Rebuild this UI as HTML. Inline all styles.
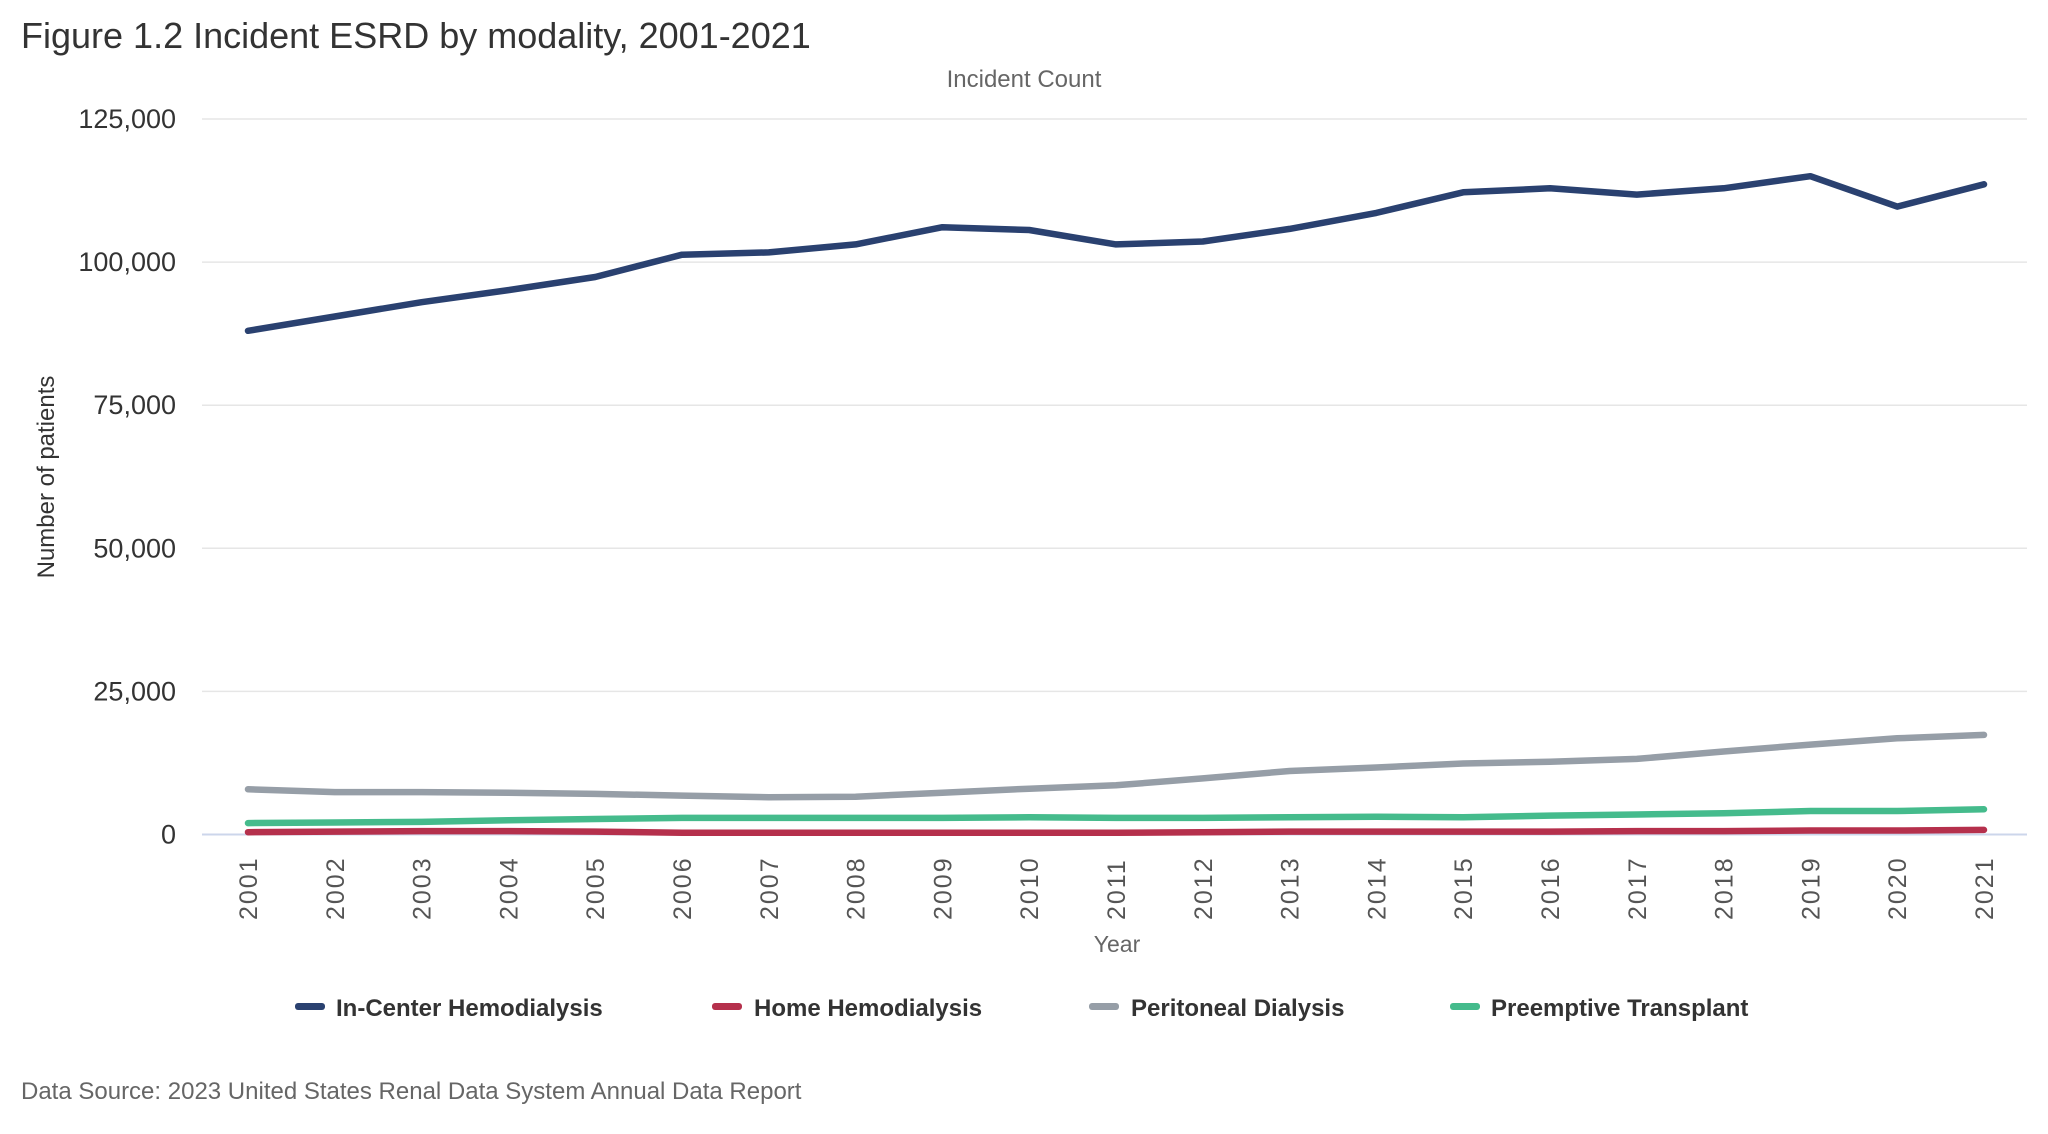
<!DOCTYPE html>
<html><head><meta charset="utf-8"><style>
html,body{margin:0;padding:0;background:#fff;width:2048px;height:1134px;overflow:hidden;font-family:"Liberation Sans",sans-serif}
</style></head><body>
<svg width="2048" height="1134" xmlns="http://www.w3.org/2000/svg">
<text x="21" y="48" font-size="36" fill="#333">Figure 1.2 Incident ESRD by modality, 2001-2021</text>
<text x="1024" y="87" font-size="24" fill="#666" text-anchor="middle">Incident Count</text>
<text transform="translate(54,477) rotate(-90)" font-size="24" fill="#333" text-anchor="middle">Number of patients</text>
<text x="1117" y="952" font-size="23" fill="#666" text-anchor="middle">Year</text>
<g id="grid"></g><g id="xlabels"></g><g id="lines"></g>
<g font-size="24" font-weight="bold" fill="#333">
<g><rect x="295" y="1003" width="30" height="7" rx="3" fill="#2a4170"/><text x="336" y="1016">In-Center Hemodialysis</text></g>
<g><rect x="712" y="1003" width="30" height="7" rx="3" fill="#b5304c"/><text x="754" y="1016">Home Hemodialysis</text></g>
<g><rect x="1089" y="1003" width="30" height="7" rx="3" fill="#969ea7"/><text x="1131" y="1016">Peritoneal Dialysis</text></g>
<g><rect x="1450" y="1003" width="30" height="7" rx="3" fill="#45bb8c"/><text x="1491" y="1016">Preemptive Transplant</text></g>
</g>
<text x="21" y="1099" font-size="24" fill="#666">Data Source: 2023 United States Renal Data System Annual Data Report</text>
</svg>
<script>
const years=[2001,2002,2003,2004,2005,2006,2007,2008,2009,2010,2011,2012,2013,2014,2015,2016,2017,2018,2019,2020,2021];
const yTicks=[0,25000,50000,75000,100000,125000];
const inCenter=[88000,90500,93000,95100,97400,101300,101700,103100,106100,105600,103100,103600,105800,108600,112200,112900,111800,112900,115000,109700,113600];
const home=[400,500,600,600,500,300,300,300,300,300,300,400,500,500,500,500,600,600,700,700,800];
const peritoneal=[7900,7400,7400,7300,7100,6800,6500,6600,7300,8000,8600,9800,11100,11700,12400,12700,13200,14500,15700,16800,17400];
const transplant=[2000,2100,2200,2500,2700,2900,2900,2900,2900,3000,2900,2900,3000,3100,3000,3300,3500,3700,4100,4100,4400];
const NS="http://www.w3.org/2000/svg";
const x=i=>248+i*(1984-248)/(years.length-1);
const y=v=>834.5-v*(834.5-119)/125000;
const grid=document.getElementById('grid');
yTicks.forEach(t=>{
  const l=document.createElementNS(NS,'line');
  l.setAttribute('x1',202);l.setAttribute('x2',2027);l.setAttribute('y1',y(t));l.setAttribute('y2',y(t));
  l.setAttribute('stroke',t===0?'#ccd6eb':'#e6e6e6');l.setAttribute('stroke-width',t===0?2:1.5);
  
  
  grid.appendChild(l);
  const tx=document.createElementNS(NS,'text');
  tx.setAttribute('x',176);tx.setAttribute('y',y(t)+9);tx.setAttribute('text-anchor','end');
  tx.setAttribute('font-size','27');tx.setAttribute('fill','#333');
  tx.textContent=t.toLocaleString('en-US');
  
  
  grid.appendChild(tx);
});
const xl=document.getElementById('xlabels');
years.forEach((yr,i)=>{
  const tx=document.createElementNS(NS,'text');
  tx.setAttribute('transform',`translate(${x(i)+9},${920}) rotate(-90)`);
  tx.setAttribute('font-size','25');tx.setAttribute('fill','#555');tx.setAttribute('letter-spacing','2');
  tx.textContent=yr;
  
  
  xl.appendChild(tx);
});
const series=[[peritoneal,'#969ea7','line-peritoneal'],[transplant,'#45bb8c','line-transplant'],[home,'#b5304c','line-home'],[inCenter,'#2a4170','line-in-center']];
const lg=document.getElementById('lines');
series.forEach(([d,c,n])=>{
  const p=document.createElementNS(NS,'path');
  p.setAttribute('d',d.map((v,i)=>(i?'L':'M')+x(i).toFixed(1)+','+y(v).toFixed(1)).join(''));
  p.setAttribute('fill','none');p.setAttribute('stroke',c);p.setAttribute('stroke-width','6.5');
  p.setAttribute('stroke-linecap','round');p.setAttribute('stroke-linejoin','round');
  
  
  lg.appendChild(p);
});
</script>
</body></html>
